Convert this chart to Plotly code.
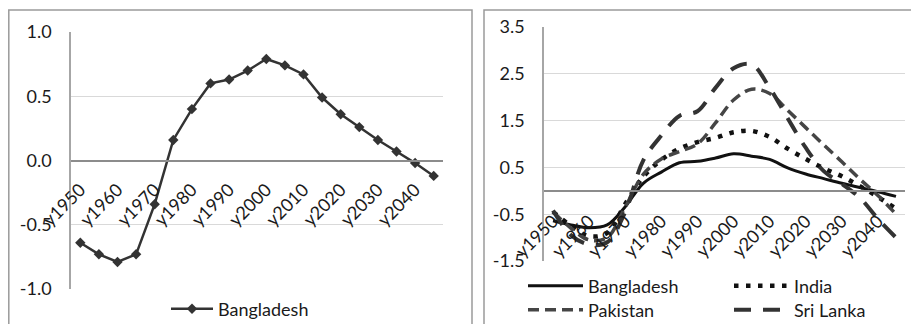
import plotly.graph_objects as go

# ---------------- data ----------------
years = ["y1950", "y1955", "y1960", "y1965", "y1970", "y1975", "y1980", "y1985",
         "y1990", "y1995", "y2000", "y2005", "y2010", "y2015", "y2020", "y2025",
         "y2030", "y2035", "y2040", "y2045"]
tick_labels = ["y1950", "y1960", "y1970", "y1980", "y1990", "y2000", "y2010",
               "y2020", "y2030", "y2040"]

bangladesh = [-0.64, -0.73, -0.79, -0.73, -0.34, 0.16, 0.40, 0.60, 0.63, 0.70,
              0.79, 0.74, 0.67, 0.49, 0.36, 0.26, 0.16, 0.07, -0.02, -0.12]
india = [-0.45, -0.75, -0.97, -0.90, -0.28, 0.30, 0.66, 0.90, 1.04, 1.13,
         1.25, 1.28, 1.15, 0.90, 0.68, 0.48, 0.31, 0.10, -0.13, -0.38]
pakistan = [-0.45, -0.80, -1.05, -1.00, -0.35, 0.35, 0.68, 0.84, 1.00, 1.45,
            1.94, 2.17, 2.08, 1.72, 1.35, 0.98, 0.62, 0.25, -0.10, -0.50]
sri_lanka = [-0.42, -0.95, -1.15, -1.10, -0.45, 0.65, 1.18, 1.60, 1.70, 2.20,
             2.62, 2.70, 2.20, 1.55, 0.92, 0.42, 0.15, -0.15, -0.60, -1.00]

left_ticks = [-1.0, -0.5, 0.0, 0.5, 1.0]
left_ticktext = ["-1.0", "-0.5", "0.0", "0.5", "1.0"]
right_ticks = [-1.5, -0.5, 0.5, 1.5, 2.5, 3.5]
right_ticktext = ["-1.5", "-0.5", "0.5", "1.5", "2.5", "3.5"]

# ---------------- layout geometry ----------------
# the page body adds an 8px offset, so the figure is sized to fill the rest
OFF = 8
W, H = 919 - OFF, 324 - OFF
FONT = "Lato"
TXT = "#1a1a1a"
DARK = "#333333"


def px(x):
    return (x - OFF) / W


def py(y):
    return 1 - (y - OFF) / H


L_x = [px(71), px(443)]
L_y = [py(289), py(32)]
R_x = [px(544), px(905)]
R_y = [py(261), py(27)]
L_range = [-1.0, 1.0]
R_range = [-1.5, 3.5]


def zero_pos(dom, rng):
    return dom[0] + (0 - rng[0]) / (rng[1] - rng[0]) * (dom[1] - dom[0])


fig = go.Figure()

# left panel
fig.add_trace(go.Scatter(
    x=years, y=bangladesh, name="Bangladesh", mode="lines+markers",
    line=dict(color=DARK, width=2.5),
    marker=dict(symbol="diamond", size=8, color=DARK),
    xaxis="x", yaxis="y", legend="legend"))

# right panel
fig.add_trace(go.Scatter(
    x=years, y=bangladesh, name="Bangladesh", mode="lines",
    line=dict(color="#111111", width=3, shape="spline", smoothing=1),
    xaxis="x2", yaxis="y2", legend="legend2"))
fig.add_trace(go.Scatter(
    x=years, y=india, name="India", mode="lines",
    line=dict(color="#111111", width=4.5, shape="spline", smoothing=1, dash="4.5px,7.5px"),
    xaxis="x2", yaxis="y2", legend="legend3"))
fig.add_trace(go.Scatter(
    x=years, y=pakistan, name="Pakistan", mode="lines",
    line=dict(color="#454545", width=3.5, shape="spline", smoothing=1, dash="11px,6px"),
    xaxis="x2", yaxis="y2", legend="legend4"))
fig.add_trace(go.Scatter(
    x=years, y=sri_lanka, name="Sri Lanka", mode="lines",
    line=dict(color="#333333", width=4, shape="spline", smoothing=1, dash="17px,12px"),
    xaxis="x2", yaxis="y2", legend="legend5"))

tickfont = dict(family=FONT, size=18, color=TXT)


def xaxis_cfg(dom, ydom, yr, standoff):
    return dict(
        type="category", categoryorder="array", categoryarray=years,
        range=[-0.5, len(years) - 0.5], domain=dom,
        anchor="free", position=zero_pos(ydom, yr), automargin=False,
        showline=True, linecolor="#8c8c8c", linewidth=1.5,
        showgrid=False, zeroline=False, ticks="",
        tickmode="array", tickvals=tick_labels, ticktext=tick_labels,
        tickangle=-45, tickfont=tickfont, ticklabelstandoff=standoff,
        fixedrange=True)


def yaxis_cfg(dom, yr, tv, tt, anchor):
    return dict(
        domain=dom, range=yr, anchor=anchor, automargin=False,
        tickmode="array", tickvals=tv, ticktext=tt,
        showgrid=True, gridcolor="#d9d9d9", gridwidth=1,
        zeroline=False, showline=True, linecolor="#a6a6a6", linewidth=1.5,
        ticks="", ticklabelstandoff=14, tickfont=tickfont, fixedrange=True)


legfont = dict(family=FONT, size=18, color=TXT)


def leg(x, y, w):
    return dict(orientation="h", x=px(x), xanchor="left", y=py(y),
                yanchor="middle", itemwidth=w, font=legfont,
                bgcolor="rgba(0,0,0,0)", borderwidth=0)


fig.update_layout(
    template="none",
    width=W, height=H,
    margin=dict(l=0, r=0, t=0, b=0, pad=0, autoexpand=False),
    paper_bgcolor="white", plot_bgcolor="white",
    font=dict(family=FONT, size=18, color=TXT),
    xaxis=xaxis_cfg(L_x, L_y, L_range, 11),
    yaxis=yaxis_cfg(L_y, L_range, left_ticks, left_ticktext, "x"),
    xaxis2=xaxis_cfg(R_x, R_y, R_range, 12),
    yaxis2=yaxis_cfg(R_y, R_range, right_ticks, right_ticktext, "x2"),
    legend=leg(166, 309, 42),
    legend2=leg(523, 286, 55),
    legend3=leg(729, 286, 55),
    legend4=leg(523, 310, 55),
    legend5=leg(729, 310, 55),
    showlegend=True,
    shapes=[
        dict(type="rect", xref="paper", yref="paper",
             x0=px(8.8), x1=px(472), y0=-0.2, y1=py(10),
             line=dict(color="#9a9a9a", width=1.5), layer="below"),
        dict(type="rect", xref="paper", yref="paper",
             x0=px(484), x1=1.05, y0=-0.2, y1=py(10),
             line=dict(color="#9a9a9a", width=1.5), layer="below"),
    ],
)

fig.write_html("out.html")
